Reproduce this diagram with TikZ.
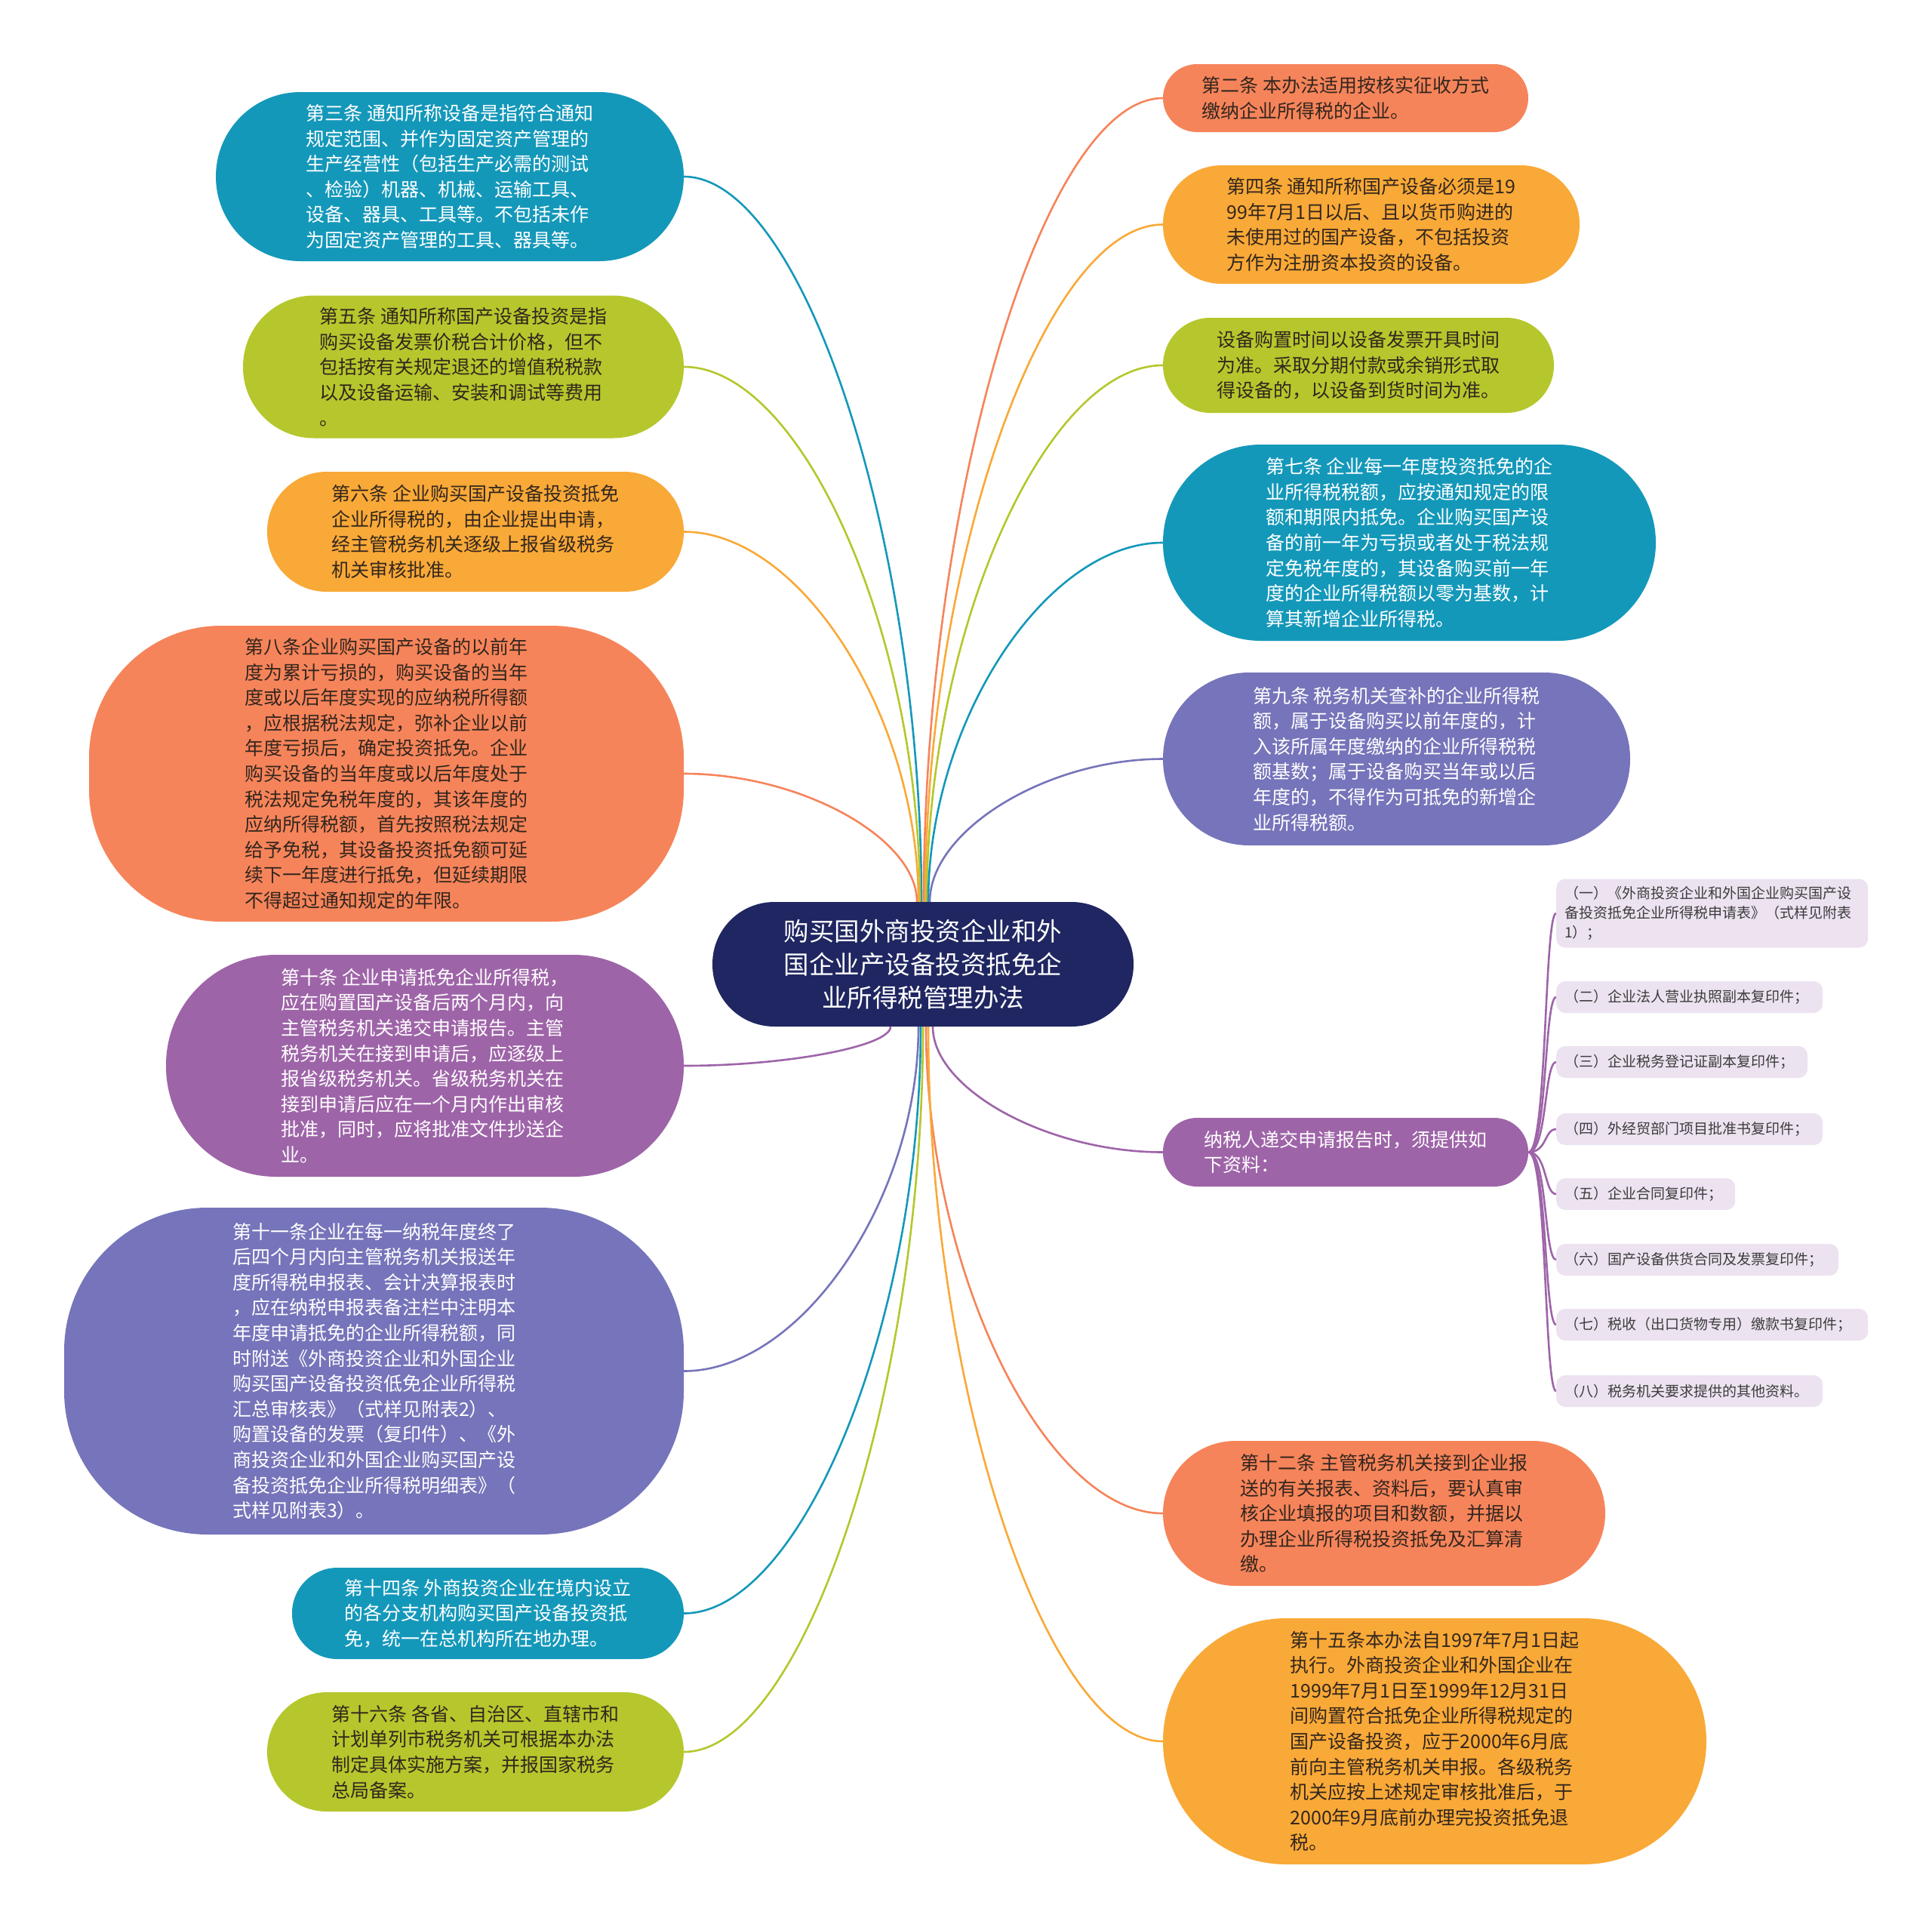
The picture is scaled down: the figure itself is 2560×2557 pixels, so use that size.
\documentclass[tikz,border=0pt]{standalone}
\usepackage{fontspec}
\setmainfont{Noto Sans CJK SC}
\usetikzlibrary{calc}
\definecolor{cteal}{RGB}{20,152,186}
\definecolor{cgreen}{RGB}{181,199,44}
\definecolor{corange}{RGB}{249,169,55}
\definecolor{csalmon}{RGB}{246,132,90}
\definecolor{cpurple}{RGB}{158,100,168}
\definecolor{cslate}{RGB}{118,116,186}
\definecolor{cnavy}{RGB}{31,38,97}
\definecolor{citem}{RGB}{236,226,240}
\definecolor{cdark}{RGB}{51,38,30}
\definecolor{citemtext}{RGB}{60,60,60}
\pgfdeclarelayer{bg}
\pgfsetlayers{bg,main}
\newcommand\linkto[3]{%
  \draw[conn,#3] (#1) .. controls ($(#1)!0.5!(#1|-#2)$) and ($(#2)!0.5!(#1|-#2)$) .. (#2);}
\newcommand\itemlink[1]{%
  \draw[conn,cpurple] (nsr.east) .. controls ($(nsr.east)+(25,0)$) and ($(#1.west)+(-16,0)$) .. (#1.west);}
\begin{document}
\begin{tikzpicture}[x=1pt,y=-1pt,
  topic/.style={inner sep=0pt, align=left, font=\fontsize{25}{33.6}\selectfont},
  darktxt/.style={text=cdark},
  lighttxt/.style={text=white},
  conn/.style={line width=2.6pt},
  subitem/.style={fill=citem, rounded corners=12, inner xsep=11pt, inner ysep=0pt,
     anchor=west, align=left, text=citemtext, minimum height=42,
     font=\fontsize{19}{26}\selectfont}
]
\useasboundingbox (0,0) rectangle (2560,2557);

% central topic
\node[fill=cnavy, text=white, minimum width=558, minimum height=165, rounded corners=82,
  inner sep=0pt, align=center, font=\fontsize{33.5}{44}\selectfont] (c) at (1223,1277.5)
  {购买国外商投资企业和外\\国企业产设备投资抵免企\\业所得税管理办法};

% left side
\node[topic, lighttxt, fill=cteal, minimum width=620, minimum height=224, rounded corners=112] (n3) at (596,234)
{第三条 通知所称设备是指符合通知\\规定范围、并作为固定资产管理的\\生产经营性（包括生产必需的测试\\、检验）机器、机械、运输工具、\\设备、器具、工具等。不包括未作\\为固定资产管理的工具、器具等。};

\node[topic, darktxt, fill=cgreen, minimum width=584, minimum height=189, rounded corners=94] (n5) at (614,486)
{第五条 通知所称国产设备投资是指\\购买设备发票价税合计价格，但不\\包括按有关规定退还的增值税税款\\以及设备运输、安装和调试等费用\\。};

\node[topic, darktxt, fill=corange, minimum width=552, minimum height=159, rounded corners=79] (n6) at (630,704.5)
{第六条 企业购买国产设备投资抵免\\企业所得税的，由企业提出申请，\\经主管税务机关逐级上报省级税务\\机关审核批准。};

\node[topic, darktxt, fill=csalmon, minimum width=788, minimum height=392, rounded corners=175] (n8) at (512,1025)
{第八条企业购买国产设备的以前年\\度为累计亏损的，购买设备的当年\\度或以后年度实现的应纳税所得额\\，应根据税法规定，弥补企业以前\\年度亏损后，确定投资抵免。企业\\购买设备的当年度或以后年度处于\\税法规定免税年度的，其该年度的\\应纳所得税额，首先按照税法规定\\给予免税，其设备投资抵免额可延\\续下一年度进行抵免，但延续期限\\不得超过通知规定的年限。};

\node[topic, lighttxt, fill=cpurple, minimum width=686, minimum height=294, rounded corners=146] (n10) at (563,1412)
{第十条 企业申请抵免企业所得税，\\应在购置国产设备后两个月内，向\\主管税务机关递交申请报告。主管\\税务机关在接到申请后，应逐级上\\报省级税务机关。省级税务机关在\\接到申请后应在一个月内作出审核\\批准，同时，应将批准文件抄送企\\业。};

\node[topic, lighttxt, fill=cslate, minimum width=821, minimum height=433, rounded corners=190] (n11) at (495.5,1816.5)
{第十一条企业在每一纳税年度终了\\后四个月内向主管税务机关报送年\\度所得税申报表、会计决算报表时\\，应在纳税申报表备注栏中注明本\\年度申请抵免的企业所得税额，同\\时附送《外商投资企业和外国企业\\购买国产设备投资低免企业所得税\\汇总审核表》（式样见附表2）、\\购置设备的发票（复印件）、《外\\商投资企业和外国企业购买国产设\\备投资抵免企业所得税明细表》（\\式样见附表3）。};

\node[topic, lighttxt, fill=cteal, minimum width=519, minimum height=121, rounded corners=60] (n14) at (646.5,2137.5)
{第十四条 外商投资企业在境内设立\\的各分支机构购买国产设备投资抵\\免，统一在总机构所在地办理。};

\node[topic, darktxt, fill=cgreen, minimum width=552, minimum height=158, rounded corners=79] (n16) at (630,2321)
{第十六条 各省、自治区、直辖市和\\计划单列市税务机关可根据本办法\\制定具体实施方案，并报国家税务\\总局备案。};

% right side
\node[topic, darktxt, fill=csalmon, minimum width=484, minimum height=90, rounded corners=45] (n2) at (1783,130)
{第二条 本办法适用按核实征收方式\\缴纳企业所得税的企业。};

\node[topic, darktxt, fill=corange, minimum width=552, minimum height=157, rounded corners=78] (n4) at (1817,297.5)
{第四条 通知所称国产设备必须是19\\99年7月1日以后、且以货币购进的\\未使用过的国产设备，不包括投资\\方作为注册资本投资的设备。};

\node[topic, darktxt, fill=cgreen, minimum width=518, minimum height=126, rounded corners=63] (ns) at (1800,484)
{设备购置时间以设备发票开具时间\\为准。采取分期付款或余销形式取\\得设备的，以设备到货时间为准。};

\node[topic, lighttxt, fill=cteal, minimum width=653, minimum height=260, rounded corners=130] (n7) at (1867.5,719)
{第七条 企业每一年度投资抵免的企\\业所得税税额，应按通知规定的限\\额和期限内抵免。企业购买国产设\\备的前一年为亏损或者处于税法规\\定免税年度的，其设备购买前一年\\度的企业所得税额以零为基数，计\\算其新增企业所得税。};

\node[topic, lighttxt, fill=cslate, minimum width=619, minimum height=229, rounded corners=114] (n9) at (1850.5,1005.5)
{第九条 税务机关查补的企业所得税\\额，属于设备购买以前年度的，计\\入该所属年度缴纳的企业所得税税\\额基数；属于设备购买当年或以后\\年度的，不得作为可抵免的新增企\\业所得税额。};

\node[topic, lighttxt, fill=cpurple, minimum width=484, minimum height=91, rounded corners=45] (nsr) at (1783,1526.5)
{纳税人递交申请报告时，须提供如\\下资料：};

\node[topic, darktxt, fill=csalmon, minimum width=586, minimum height=192, rounded corners=96] (n12) at (1834,2005)
{第十二条 主管税务机关接到企业报\\送的有关报表、资料后，要认真审\\核企业填报的项目和数额，并据以\\办理企业所得税投资抵免及汇算清\\缴。};

\node[topic, darktxt, fill=corange, minimum width=720, minimum height=326, rounded corners=163] (n15) at (1901,2307)
{第十五条本办法自1997年7月1日起\\执行。外商投资企业和外国企业在\\1999年7月1日至1999年12月31日\\间购置符合抵免企业所得税规定的\\国产设备投资，应于2000年6月底\\前向主管税务机关申报。各级税务\\机关应按上述规定审核批准后，于\\2000年9月底前办理完投资抵免退\\税。};

% sub items
\node[subitem, minimum height=91, text width=391] (i1) at (2062,1210)
{（一）《外商投资企业和外国企业购买国产设\\备投资抵免企业所得税申请表》（式样见附表\\1）；};
\node[subitem, text width=331] (i2) at (2062,1321) {（二）企业法人营业执照副本复印件；};
\node[subitem, text width=311] (i3) at (2062,1407) {（三）企业税务登记证副本复印件；};
\node[subitem, text width=331] (i4) at (2062,1496) {（四）外经贸部门项目批准书复印件；};
\node[subitem, text width=215] (i5) at (2062,1582) {（五）企业合同复印件；};
\node[subitem, text width=352] (i6) at (2062,1669) {（六）国产设备供货合同及发票复印件；};
\node[subitem, text width=391] (i7) at (2062,1755) {（七）税收（出口货物专用）缴款书复印件；};
\node[subitem, text width=331] (i8) at (2062,1843) {（八）税务机关要求提供的其他资料。};

% start points on the central topic
\coordinate (t3) at ($(c.north)+(-2,0)$);
\coordinate (t5) at ($(c.north)+(-4,0)$);
\coordinate (t6) at ($(c.north)+(-6,0)$);
\coordinate (t8) at ($(c.north)+(-8,0)$);
\coordinate (t2) at ($(c.north)+(1,0)$);
\coordinate (t4) at ($(c.north)+(3,0)$);
\coordinate (ts) at ($(c.north)+(5,0)$);
\coordinate (t7) at ($(c.north)+(7,0)$);
\coordinate (t9) at ($(c.north)+(9,0)$);
\coordinate (b10) at ($(c.south)+(-43,0)$);
\coordinate (b11) at ($(c.south)+(-6,0)$);
\coordinate (b14) at ($(c.south)+(-3,0)$);
\coordinate (b16) at ($(c.south)+(0,0)$);
\coordinate (b12) at ($(c.south)+(4,0)$);
\coordinate (b15) at ($(c.south)+(7,0)$);
\coordinate (bsr) at ($(c.south)+(13,0)$);

\begin{pgfonlayer}{bg}
\fill[white] (0,0) rectangle (2560,2557);
\linkto{t3}{n3.east}{cteal}
\linkto{t5}{n5.east}{cgreen}
\linkto{t6}{n6.east}{corange}
\linkto{t8}{n8.east}{csalmon}
\linkto{b10}{n10.east}{cpurple}
\linkto{b11}{n11.east}{cslate}
\linkto{b14}{n14.east}{cteal}
\linkto{b16}{n16.east}{cgreen}
\linkto{t2}{n2.west}{csalmon}
\linkto{t4}{n4.west}{corange}
\linkto{ts}{ns.west}{cgreen}
\linkto{t7}{n7.west}{cteal}
\linkto{t9}{n9.west}{cslate}
\linkto{bsr}{nsr.west}{cpurple}
\linkto{b12}{n12.west}{csalmon}
\linkto{b15}{n15.west}{corange}
\itemlink{i1}
\itemlink{i2}
\itemlink{i3}
\itemlink{i4}
\itemlink{i5}
\itemlink{i6}
\itemlink{i7}
\itemlink{i8}
\end{pgfonlayer}
\end{tikzpicture}
\end{document}
